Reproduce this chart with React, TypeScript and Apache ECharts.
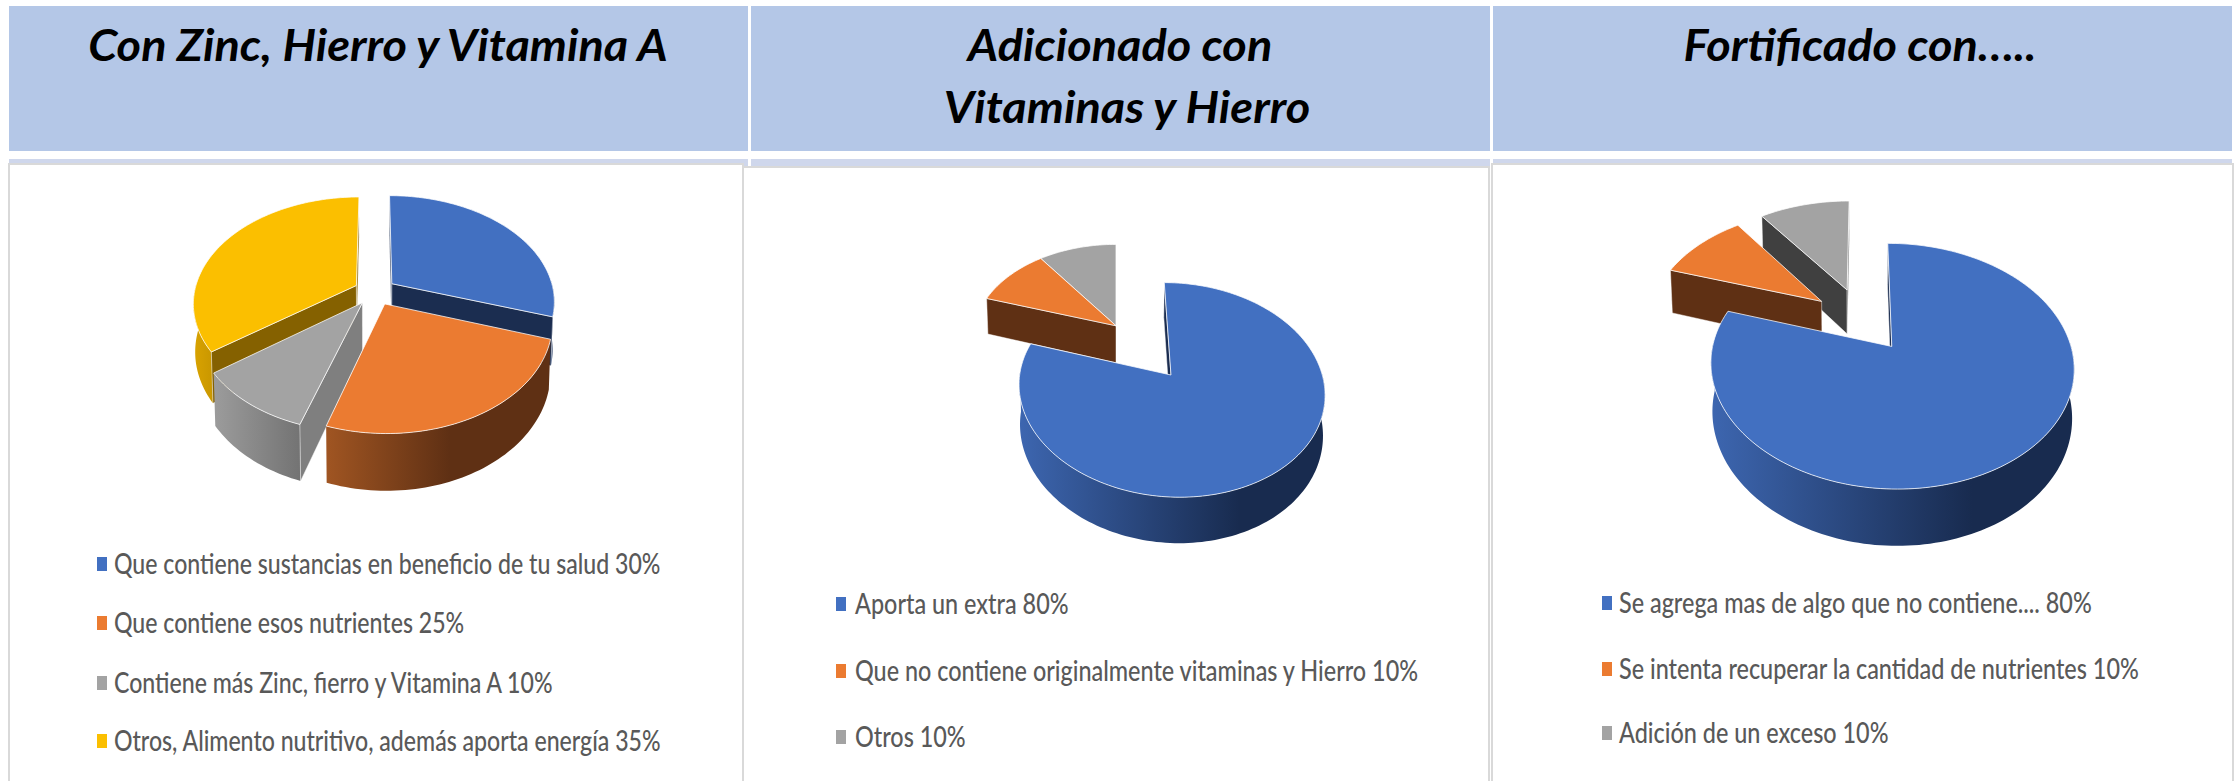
import React, { useEffect, useRef } from "react";
import * as echarts from "echarts";

const titles1 = ["Con Zinc, Hierro y Vitamina A"];
const titles2 = ["Adicionado con", "Vitaminas y Hierro"];
const titles3 = ["Fortificado con….."];

const names1 = [
  "Que contiene sustancias en beneficio de tu salud",
  "Que contiene esos nutrientes",
  "Contiene más Zinc, fierro y Vitamina A",
  "Otros, Alimento nutritivo, además aporta energía",
];
const values1 = [30, 25, 10, 35];

const names2 = ["Aporta un extra", "Que no contiene originalmente vitaminas y Hierro", "Otros"];
const values2 = [80, 10, 10];

const names3 = [
  "Se agrega mas de algo que no contiene....",
  "Se intenta recuperar la cantidad de nutrientes",
  "Adición de un exceso",
];
const values3 = [80, 10, 10];

const BLUE = { top: "#4270C1", radial: "#1B2D50", wall: ["#3D66B0", "#182B4F"], stop: 0.72 };
const ORANGE = { top: "#EB7B31", radial: "#5F3014", wall: ["#A05522", "#5F3014"], stop: 0.55 };
const GREY = { top: "#A3A3A3", radial: "#7F7F7F", wall: ["#9C9C9C", "#737373"], stop: 1 };
const GREY_DARK = { ...GREY, radial: "#404040" };
const YELLOW = { top: "#FBBF00", radial: "#856100", wall: ["#D9A300", "#C99700"], stop: 1 };

const pies = [
  { names: names1, values: values1, looks: [BLUE, ORANGE, GREY, YELLOW], explode: [0.13, 0.13, 0.13, 0.13],
    cx: 375, cy: 291.6, f: 162, g: 104.5, k: 0.16, depth: 47,
    legend: { marker: 97, text: 114, rows: [564, 623, 683, 741], scale: 0.826 } },
  { names: names2, values: values2, looks: [BLUE, ORANGE, GREY], explode: [0.618, 0, 0],
    cx: 1116, cy: 325.8, f: 141.5, g: 92, k: 0.13, depth: 37,
    legend: { marker: 836, text: 855, rows: [604, 671, 737], scale: 0.836 } },
  { names: names3, values: values3, looks: [BLUE, ORANGE, GREY_DARK], explode: [0.278, 0.3, 0.3],
    cx: 1862.5, cy: 320.5, f: 173, g: 111.5, k: 0.155, depth: 46,
    legend: { marker: 1602, text: 1619, rows: [603, 669, 733], scale: 0.836 } },
];

function buildSeries() {
  const series: any[] = [];
  pies.forEach((pie) => {
    const total = pie.values.reduce((a, b) => a + b, 0);
    let acc = 0;
    const arcs = pie.values.map((v) => {
      const a0 = (acc / total) * Math.PI * 2;
      acc += v;
      return [a0, (acc / total) * Math.PI * 2];
    });
    const backness = arcs.map(
      ([a, b], i) => pie.explode[i] * Math.cos((a + b) / 2) + 0.001 * Math.cos((a + b) / 2)
    );
    const rank = backness.map((v) => backness.filter((o) => o > v).length);
    pie.values.forEach((value, i) => {
      const [a0, a1] = arcs[i];
      const mid = (a0 + a1) / 2;
      const u0 = pie.explode[i] * Math.sin(mid);
      const v0 = pie.explode[i] * Math.cos(mid);
      const look = pie.looks[i];
      const top = (u: number, v: number) => {
        const w = 1 + pie.k * v;
        return [pie.cx + (pie.f * u) / w, pie.cy - (pie.g * v) / w];
      };
      const bottom = (u: number, v: number) => {
        const w = 1 + pie.k * v;
        return [pie.cx + ((pie.f * u) / w) * 0.99, pie.cy - (pie.g * v) / w + pie.depth / w];
      };
      const onRim = (a: number) => [u0 + Math.sin(a), v0 + Math.cos(a)];
      const seg = Math.ceil(((a1 - a0) / (Math.PI * 2)) * 240);
      const angles: number[] = [];
      for (let s = 0; s <= seg; s++) angles.push(a0 + ((a1 - a0) * s) / seg);
      const front = angles.filter((a) => Math.cos(a) < 0.05);
      const line = "rgba(255,255,255,0.75)";
      series.push({
        type: "custom",
        name: `${pie.names[i]} ${value}%`,
        coordinateSystem: "none",
        silent: true,
        z: 5 + rank[i],
        itemStyle: { color: look.top },
        data: [[value]],
        renderItem: () => {
          const radial = (a: number, normal: number) => {
            const [u, v] = onRim(a);
            if (Math.cos(normal) > 0.01) return null;
            return {
              type: "polygon",
              shape: { points: [top(u0, v0), top(u, v), bottom(u, v), bottom(u0, v0)] },
              style: { fill: look.radial, stroke: line, lineWidth: 0.6 },
            };
          };
          const rimTop = angles.map((a) => top(onRim(a)[0], onRim(a)[1]));
          const wallTop = front.map((a) => top(onRim(a)[0], onRim(a)[1]));
          const wallBottom = front.map((a) => bottom(onRim(a)[0], onRim(a)[1]));
          const children: any[] = [];
          if (front.length > 1) {
            children.push({
              type: "polygon",
              shape: { points: [...wallTop, ...wallBottom.slice().reverse()] },
              style: {
                fill: new echarts.graphic.LinearGradient(0, 0, 1, 0, [
                  { offset: 0, color: look.wall[0] },
                  { offset: look.stop, color: look.wall[1] },
                  { offset: 1, color: look.wall[1] },
                ]),
              },
            });
          }
          const r0 = radial(a0, a0 - Math.PI / 2);
          const r1 = radial(a1, a1 + Math.PI / 2);
          if (r0) children.push(r0);
          if (r1) children.push(r1);
          children.push({
            type: "polygon",
            shape: { points: [top(u0, v0), ...rimTop] },
            style: { fill: look.top, stroke: line, lineWidth: 1 },
          });
          return { type: "group", children };
        },
      });
    });
  });
  return series;
}

const panel = (x: number, w: number, boxX: number, boxW: number, boxTop: number) => [
  { type: "rect", z: 0, shape: { x, y: 6, width: w, height: 145 }, style: { fill: "#B4C7E7" } },
  { type: "rect", z: 0, shape: { x, y: 159, width: w, height: 8 }, style: { fill: "#CFD7EC" } },
  { type: "rect", z: 1, shape: { x: boxX, y: boxTop, width: boxW, height: 790 - boxTop },
    style: { fill: "#FFFFFF", stroke: "#D9D9D9", lineWidth: 2 } },
];

const titleText = (text: string, x: number, y: number) => ({
  type: "text", z: 3, x, y, scaleX: 1.09,
  style: { text, align: "center", verticalAlign: "middle", fill: "#000000",
    font: "italic bold 43px Lato" },
});

const legendRows = () =>
  pies.flatMap((pie) =>
    pie.names.flatMap((name, i) => [
      { type: "rect", z: 3,
        shape: { x: pie.legend.marker, y: pie.legend.rows[i] - 7, width: 10, height: 14 },
        style: { fill: pie.looks[i].top } },
      { type: "text", z: 3, x: pie.legend.text, y: pie.legend.rows[i] - 1, scaleX: pie.legend.scale,
        style: { text: `${name} ${pie.values[i]}%`, align: "left", verticalAlign: "middle",
          fill: "#595959", font: "500 28px Lato" } },
    ])
  );

export default function App() {
  const ref = useRef<HTMLDivElement>(null);
  useEffect(() => {
    const chart = echarts.init(ref.current!, undefined, { renderer: "svg" });
    chart.setOption({
      animation: false,
      backgroundColor: "#FFFFFF",
      graphic: { elements: [
        ...panel(9, 739, 9, 734, 164),
        ...panel(751, 739, 743, 746, 167),
        ...panel(1493, 739, 1492, 741, 164),
        titleText(titles1[0], 378, 45),
        titleText(titles2[0], 1120, 45),
        titleText(titles2[1], 1127, 107),
        titleText(titles3[0], 1860, 45),
        ...legendRows(),
      ] },
      series: buildSeries(),
    });
    return () => chart.dispose();
  }, []);
  return <div ref={ref} style={{ position: "fixed", left: 0, top: 0, width: 2239, height: 781 }} />;
}
